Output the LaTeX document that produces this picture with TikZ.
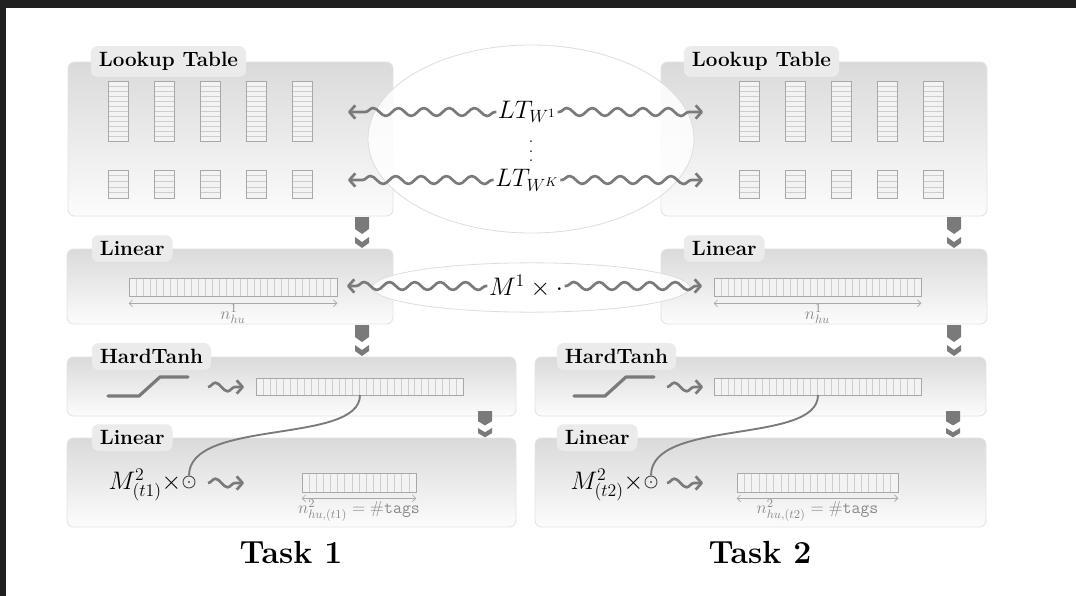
\documentclass[tikz,border=0pt]{standalone}
\usepackage{fix-cm}
\usetikzlibrary{decorations.pathmorphing,arrows.meta,fit,calc,shapes.geometric}
\definecolor{boxtop}{HTML}{DADADA}
\definecolor{boxbot}{HTML}{FCFCFC}
\definecolor{boxline}{HTML}{E4E4E4}
\definecolor{tabfill}{HTML}{EBEBEB}
\definecolor{snakec}{HTML}{7A7A7A}
\definecolor{vecline}{HTML}{A8A8A8}
\definecolor{cellline}{HTML}{CDCDCD}
\definecolor{vecfill}{HTML}{F3F3F3}
\definecolor{framec}{HTML}{202020}
\definecolor{lblc}{HTML}{8A8A8A}
\definecolor{ellc}{HTML}{DDDDDD}

\newcommand\myvcells[6]{% name x1 y1 x2 y2 n (horizontal divisions)
  \path node[fit={(#2,#3)(#4,#5)}, inner sep=0pt] (#1) {};
  \fill[vecfill] (#2,#3) rectangle (#4,#5);
  \pgfmathtruncatemacro\mynm{#6-1}
  \foreach \i in {1,...,\mynm} \draw[cellline, line width=0.4pt] (#2,{#3+(#5-#3)*\i/#6}) -- (#4,{#3+(#5-#3)*\i/#6});
  \draw[vecline, line width=0.6pt] (#2,#3) rectangle (#4,#5);
}
\newcommand\myhcells[6]{% name x1 y1 x2 y2 n (vertical divisions)
  \path node[fit={(#2,#3)(#4,#5)}, inner sep=0pt] (#1) {};
  \fill[vecfill] (#2,#3) rectangle (#4,#5);
  \pgfmathtruncatemacro\mynm{#6-1}
  \foreach \i in {1,...,\mynm} \draw[cellline, line width=0.4pt] ({#2+(#4-#2)*\i/#6},#3) -- ({#2+(#4-#2)*\i/#6},#5);
  \draw[vecline, line width=0.6pt] (#2,#3) rectangle (#4,#5);
}

\begin{document}
\begin{tikzpicture}[x=0.75pt,y=-0.75pt,
  layer/.style={draw=boxline, line width=0.7pt, rounded corners=5pt, top color=boxtop, bottom color=boxbot, inner sep=0pt},
  tab/.style={fill=tabfill, rounded corners=5pt, font=\fontsize{15.5}{18}\selectfont\bfseries, inner xsep=6pt, inner ysep=4.6pt, anchor=west},
  shared/.style={ellipse, draw=ellc, line width=0.6pt, fill=white, fill opacity=0.85, inner sep=0pt},
  mathlbl/.style={font=\fontsize{19}{22}\selectfont, inner sep=1pt},
  dimlbl/.style={font=\fontsize{13}{15}\selectfont, text=lblc, inner sep=1pt},
  title/.style={font=\fontsize{24}{28}\selectfont\bfseries},
  snk/.style={draw=snakec, line width=2pt, line join=round, decorate,
    decoration={snake, amplitude=3pt, segment length=19pt, pre length=1pt, post length=4pt},
    -{Straight Barb[length=4.5pt,width=10pt,line join=round]}},
  ssnk/.style={draw=snakec, line width=2pt, line join=round, decorate,
    decoration={snake, amplitude=3.2pt, segment length=18pt, pre length=0pt, post length=5pt},
    -{Straight Barb[length=4.5pt,width=10pt,line join=round]}},
  dim/.style={draw=vecline, line width=0.5pt, {Straight Barb[length=2.5pt,width=5pt]}-{Straight Barb[length=2.5pt,width=5pt]}},
  link/.style={draw=snakec, line width=1.4pt},
  odotn/.style={circle, draw=black!70, line width=0.7pt, minimum size=9pt, inner sep=0pt},
  htan/.style={draw=snakec, line width=2.4pt, line cap=round, line join=round},
  pics/downarr/.style={code={
    \fill[snakec] (-7,0) -- (7,0) -- (7,12) -- (0,17) -- (-7,12) -- cycle;
    \fill[snakec] (-7,20) -- (0,25) -- (7,20) -- (7,26) -- (0,31) -- (-7,26) -- cycle;
  }}
]
\useasboundingbox (0,0) rectangle (1076,596);
\fill[white] (0,0) rectangle (1076,596);
\fill[framec] (0,0) rectangle (1076,8);
\fill[framec] (0,0) rectangle (6,596);

% ---------- layers ----------
\node[layer, fit={(68,62)(393,216)}] (lt1) {};
\node[layer, fit={(661,62)(987,216)}] (lt2) {};
\node[layer, fit={(67,249)(393,324)}] (li1) {};
\node[layer, fit={(661,249)(987,324)}] (li2) {};
\node[layer, fit={(67,357)(516,416)}] (ht1) {};
\node[layer, fit={(535,357)(986,416)}] (ht2) {};
\node[layer, fit={(67,438)(516,527)}] (lo1) {};
\node[layer, fit={(535,438)(986,527)}] (lo2) {};

% ---------- tabs ----------
\node[tab] (lt1t) at ($(lt1.north west)+(23,0)$) {Lookup Table};
\node[tab] (lt2t) at ($(lt2.north west)+(23,0)$) {Lookup Table};
\node[tab] (li1t) at ($(li1.north west)+(25,0)$) {Linear};
\node[tab] (li2t) at ($(li2.north west)+(23,0)$) {Linear};
\node[tab] (ht1t) at ($(ht1.north west)+(25,0)$) {HardTanh};
\node[tab] (ht2t) at ($(ht2.north west)+(22,0)$) {HardTanh};
\node[tab] (lo1t) at ($(lo1.north west)+(25,0)$) {Linear};
\node[tab] (lo2t) at ($(lo2.north west)+(22,0)$) {Linear};

% ---------- lookup table vectors ----------
\foreach \x [count=\k] in {108,154,200,246,292} {
  \myvcells{lta\k}{\x}{81}{\x+20}{141}{12}
  \myvcells{ltb\k}{\x}{170}{\x+20}{198}{5}
}
\foreach \x [count=\k] in {739,785,831,877,923} {
  \myvcells{lrta\k}{\x}{81}{\x+20}{141}{12}
  \myvcells{lrtb\k}{\x}{170}{\x+20}{198}{5}
}

% ---------- linear vectors ----------
\myhcells{li1v}{129}{278}{337}{296}{30}
\myhcells{li2v}{714}{278}{921}{296}{30}
\draw[dim] ($(li1v.south west)+(0,7)$) -- ($(li1v.south east)+(0,7)$);
\draw[dim] ($(li2v.south west)+(0,7)$) -- ($(li2v.south east)+(0,7)$);
\node[dimlbl] at ($(li1v.south)+(0,18)$) {$n^1_{hu}$};
\node[dimlbl] at ($(li2v.south)+(0,18)$) {$n^1_{hu}$};

% ---------- hardtanh ----------
\myhcells{ht1v}{256}{378}{463}{395}{30}
\myhcells{ht2v}{714}{378}{921}{395}{30}
\draw[htan] (108,396) -- (139,396) -- (160,377) -- (188,377);
\draw[htan] (574,396) -- (605,396) -- (626,377) -- (654,377);
\coordinate (hs1a) at (208,387); \coordinate (hs1b) at (244,387);
\coordinate (hs2a) at (667,387); \coordinate (hs2b) at (703,387);
\draw[ssnk] (hs1a) -- (hs1b);
\draw[ssnk] (hs2a) -- (hs2b);

% ---------- lower linear ----------
\myhcells{lo1v}{302}{473}{416}{492}{16}
\myhcells{lo2v}{737}{473}{898}{492}{22}
\draw[dim] ($(lo1v.south west)+(0,6)$) -- ($(lo1v.south east)+(0,6)$);
\draw[dim] ($(lo2v.south west)+(0,6)$) -- ($(lo2v.south east)+(0,6)$);
\node[dimlbl] at ($(lo1v.south)+(0,18)$) {$n^2_{hu,(t1)}=\#\texttt{tags}$};
\node[dimlbl] at ($(lo2v.south)+(0,18)$) {$n^2_{hu,(t2)}=\#\texttt{tags}$};

\node[mathlbl, anchor=east] (mt1) at (183,485) {$M^2_{(t1)}\times$};
\node[mathlbl, anchor=east] (mt2) at (645,485) {$M^2_{(t2)}\times$};
\node[odotn] (od1) at (189,482) {};
\node[odotn] (od2) at (651,482) {};
\fill[black!70] (od1.center) circle [radius=1.1];
\fill[black!70] (od2.center) circle [radius=1.1];
\coordinate (ls1a) at (208,483); \coordinate (ls1b) at (244,483);
\coordinate (ls2a) at (667,483); \coordinate (ls2b) at (703,483);
\draw[ssnk] (ls1a) -- (ls1b);
\draw[ssnk] (ls2a) -- (ls2b);

\coordinate (c1) at (360,395);
\coordinate (c2) at (818,395);
\draw[link] (c1) .. controls (360,445) and (189,418) .. (od1.north);
\draw[link] (c2) .. controls (818,445) and (651,418) .. (od2.north);

% ---------- down arrows ----------
\pic at (362,217) {downarr};
\pic at (954,217) {downarr};
\pic at (362,325) {downarr};
\pic at (954,325) {downarr};
\pic[yscale=0.85] at (485,411) {downarr};
\pic[yscale=0.85] at (953,411) {downarr};

% ---------- shared ellipses ----------
\node[shared, minimum width=244.5pt, minimum height=141pt] (sh1) at (531,139) {};
\node[shared, minimum width=238pt, minimum height=37pt] (sh2) at (531,287.5) {};

\node[mathlbl] (w1) at (527,112) {$LT_{W^1}$};
\node[mathlbl] (wk) at (527,180) {$LT_{W^K}$};
\node[font=\fontsize{15}{7.2}\selectfont, align=center, inner sep=0pt, anchor=south] (dots) at (531,162) {.\\.\\.};
\node[mathlbl] (m1) at (526,286) {$M^1\times\cdot$};

\coordinate (e1l) at (348,112); \coordinate (e1r) at (703,112);
\coordinate (ekl) at (348,180); \coordinate (ekr) at (703,180);
\coordinate (eml) at (347,286); \coordinate (emr) at (702,286);
\draw[snk] (w1.west) -- (e1l);
\draw[snk] (w1.east) -- (e1r);
\draw[snk] (wk.west) -- (ekl);
\draw[snk] (wk.east) -- (ekr);
\draw[snk] (m1.west) -- (eml);
\draw[snk] (m1.east) -- (emr);

% ---------- titles ----------
\node[title] (task1) at (291,552) {Task 1};
\node[title] (task2) at (760,552) {Task 2};
\end{tikzpicture}
\end{document}
